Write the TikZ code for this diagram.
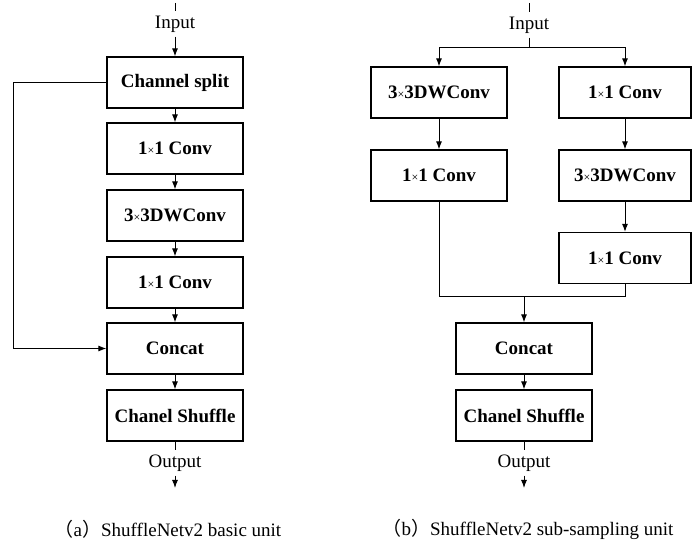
\documentclass[tikz,border=0pt]{standalone}
\usepackage{xcolor}
\usepackage{fontspec}
\setmainfont{Liberation Serif}
\newfontfamily\cjk{Noto Sans CJK SC}
\usepackage{tikz}
\usetikzlibrary{arrows.meta}

\newcommand{\tms}{{\fontsize{6}{7}\selectfont\mdseries×}}

\begin{document}
\begin{tikzpicture}[x=0.5pt,y=-0.5pt,
	box/.style={draw,line width=0.6pt,minimum width=68pt,minimum height=25.5pt,inner sep=0pt,font=\fontsize{9.5}{11}\selectfont\bfseries},
	lbl/.style={inner sep=2pt,font=\fontsize{9.5}{11}\selectfont},
	arr/.style={-{Latex[length=4pt,width=3pt]},line width=0.5pt},
	ln/.style={line width=0.5pt}]
	\useasboundingbox (0,0) rectangle (692,545);
	
	% (a) basic unit
	\coordinate (topA) at (175,3);
	\node[lbl] (inA) at (175,24) {Input};
	\node[box] (splitA) at (175,82.5) {Channel split};
	\node[box] (convA1) at (175,148.5) {1\tms1 Conv};
	\node[box] (dwA) at (175,215.5) {3\tms3DWConv};
	\node[box] (convA2) at (175,282.5) {1\tms1 Conv};
	\node[box] (concatA) at (175,348.5) {Concat};
	\node[box] (shuffleA) at (175,415.5) {Chanel Shuffle};
	\node[lbl] (outA) at (175,463) {Output};
	\coordinate (endA) at (175,488);
	\coordinate (loopA) at (13,82.5);
	
	\draw [ln] (topA) -- (inA.north);
	\draw [arr] (inA.south) -- (splitA);
	\draw [arr] (splitA) -- (convA1);
	\draw [arr] (convA1) -- (dwA);
	\draw [arr] (dwA) -- (convA2);
	\draw [arr] (convA2) -- (concatA);
	\draw [arr] (concatA) -- (shuffleA);
	\draw [ln] (shuffleA) -- (outA.north);
	\draw [arr] (outA.south) -- (endA);
	\draw [arr] (splitA.west) -- (loopA) |- (concatA.west);
	
	% (b) sub-sampling unit
	\coordinate (topB) at (529,3);
	\node[lbl] (inB) at (529,25) {Input};
	\coordinate (splitB) at (529,48);
	\node[box] (dwB1) at (439,92.5) {3\tms3DWConv};
	\node[box] (convB2) at (439,175.5) {1\tms1 Conv};
	\node[box,minimum width=66pt] (convB1) at (625,92.5) {1\tms1 Conv};
	\node[box,minimum width=66pt] (dwB2) at (625,175.5) {3\tms3DWConv};
	\node[box,minimum width=66pt] (convB3) at (625,258) {1\tms1 Conv};
	\coordinate (mergeB) at (524,297);
	\node[box] (concatB) at (524,348.5) {Concat};
	\node[box] (shuffleB) at (524,415.5) {Chanel Shuffle};
	\node[lbl] (outB) at (524,463) {Output};
	\coordinate (endB) at (524,488);
	
	\draw [ln] (topB) -- (inB.north);
	\draw [ln] (inB.south) -- (splitB);
	\draw [arr] (splitB) -| (dwB1.north);
	\draw [arr] (splitB) -| (convB1.north);
	\draw [arr] (dwB1) -- (convB2);
	\draw [arr] (convB1) -- (dwB2);
	\draw [arr] (dwB2) -- (convB3);
	\draw [ln] (convB2.south) |- (mergeB);
	\draw [ln] (convB3.south) |- (mergeB);
	\draw [arr] (mergeB) -- (concatB);
	\draw [arr] (concatB) -- (shuffleB);
	\draw [ln] (shuffleB) -- (outB.north);
	\draw [arr] (outB.south) -- (endB);
	
	% captions
	\node[lbl] (capA) at (168,529) {{\cjk （}a{\cjk ）}ShuffleNetv2 basic unit};
	\node[lbl] (capB) at (528,529) {{\cjk （}b{\cjk ）}ShuffleNetv2 sub-sampling unit};
\end{tikzpicture}
\end{document}
